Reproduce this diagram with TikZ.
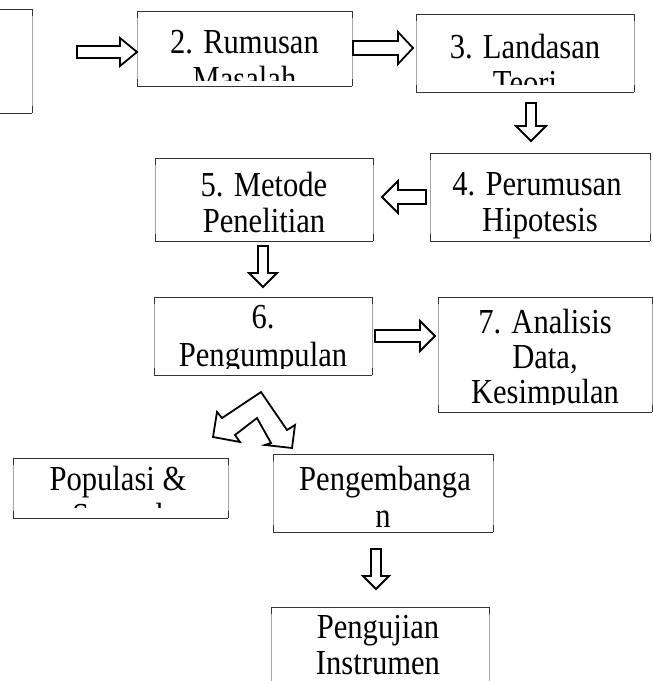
\documentclass[tikz,border=0pt]{standalone}
\usepackage{fontspec}
\setmainfont{Liberation Serif}
\usepackage{graphicx}
\usetikzlibrary{fit}
\newcommand\vs[1]{\scalebox{1.02}[1.17]{#1}}
\tikzset{
  hl/.style={draw=black!80, line width=0.7pt},
  vl/.style={draw=black!35, line width=0.7pt},
  lbl/.style={font=\fontsize{30}{36}\selectfont, inner sep=0pt, anchor=base},
  blk/.style={draw=black, line width=1.8pt, fill=white, line join=miter, miter limit=10},
  frame/.style={inner sep=0pt, outer sep=0pt},
}
\newcommand\bx[5]{%
  \coordinate (#1nw) at (#2,#3); \coordinate (#1se) at (#4,#5);
  \node[frame, fit=(#1nw)(#1se)] (#1) {};
  \draw[vl] (#1.north west) -- (#1.south west);
  \draw[vl] (#1.north east) -- (#1.south east);
  \draw[hl] (#1.north west) -- (#1.north east);
  \draw[hl] (#1.south west) -- (#1.south east);
  \draw[hl] (#1.north west) -- ++(0,7);
  \draw[hl] (#1.north east) -- ++(0,7);
  \draw[hl] (#1.south west) -- ++(0,-7);
  \draw[hl] (#1.south east) -- ++(0,-7);
}
\begin{document}
\begin{tikzpicture}[x=1pt,y=-1pt]
\useasboundingbox (0,0) rectangle (653,681);
% boxes
\bx{b1}{-20}{9}{32}{113}
\bx{b2}{137}{11}{352}{86}
\bx{b3}{416}{14}{634}{92}
\bx{b4}{430}{153}{650}{241}
\bx{b5}{155}{158}{373}{241}
\bx{b6}{154}{297}{372}{375}
\bx{b7}{438}{297}{652}{412}
\bx{b8}{13}{458}{228}{518}
\bx{b9}{273}{454}{493}{532}
\bx{b10}{271}{607}{489}{700}
% texts (clipped like the source)
\begin{scope}\clip (137,11) rectangle (352,80);
  \node[lbl] (t2a) at (244.5,53) {\vs{2. Rumusan}};
  \node[lbl] (t2b) at (244.5,90) {\vs{Masalah}};
\end{scope}
\begin{scope}\clip (416,14) rectangle (634,84);
  \node[lbl] (t3a) at (525,58) {\vs{3. Landasan}};
  \node[lbl] (t3b) at (525,94) {\vs{Teori}};
\end{scope}
\node[lbl] (t4a) at (537,195) {\vs{4. Perumusan}};
\node[lbl] (t4b) at (540,231) {\vs{Hipotesis}};
\node[lbl] (t5a) at (264,196) {\vs{5. Metode}};
\node[lbl] (t5b) at (264,232) {\vs{Penelitian}};
\begin{scope}\clip (154,297) rectangle (372,368);
  \node[lbl] (t6a) at (263,328) {\vs{6.}};
  \node[lbl] (t6b) at (263,366) {\vs{Pengumpulan}};
\end{scope}
\begin{scope}\clip (438,297) rectangle (652,404);
  \node[lbl] (t7a) at (545,333) {\vs{7. Analisis}};
  \node[lbl] (t7b) at (545,368) {\vs{Data,}};
  \node[lbl] (t7c) at (545,403) {\vs{Kesimpulan}};
\end{scope}
\begin{scope}\clip (13,458) rectangle (228,507);
  \node[lbl] (t8a) at (118,490) {\vs{Populasi \&}};
  \node[lbl] (t8b) at (118,527) {\vs{Sampel}};
\end{scope}
\node[lbl] (t9a) at (385,490) {\vs{Pengembanga}};
\node[lbl] (t9b) at (383,527) {\vs{n}};
\node[lbl] (t10a) at (378,638) {\vs{Pengujian}};
\node[lbl] (t10b) at (378,674) {\vs{Instrumen}};
% block arrows
\draw[blk] (77,46) -- (120,46) -- (120,38) -- (137,52) -- (120,66) -- (120,58) -- (77,58) -- cycle;
\draw[blk] (353,41) -- (398,41) -- (398,32) -- (413,48) -- (398,64) -- (398,55) -- (353,55) -- cycle;
\draw[blk] (526,103) -- (526,126) -- (516,126) -- (531,141) -- (546,126) -- (536,126) -- (536,103) -- cycle;
\draw[blk] (426,190) -- (398,190) -- (398,181) -- (382,197) -- (398,213) -- (398,204) -- (426,204) -- cycle;
\draw[blk] (258,246) -- (258,273) -- (249,273) -- (263,287) -- (277,273) -- (268,273) -- (268,246) -- cycle;
\draw[blk] (375,330) -- (420,330) -- (420,321) -- (435,336) -- (420,351) -- (420,342) -- (375,342) -- cycle;
\draw[blk] (371,549) -- (371,576) -- (363,576) -- (376,589) -- (389,576) -- (381,576) -- (381,549) -- cycle;
% bent double arrow
\draw[blk] (261,392) -- (222,418) -- (217,412) -- (213,437) -- (240,442) -- (235,435) -- (257,418)
  -- (271,443) -- (265,445) -- (292,448) -- (295,425) -- (287,430) -- cycle;
\end{tikzpicture}
\end{document}
